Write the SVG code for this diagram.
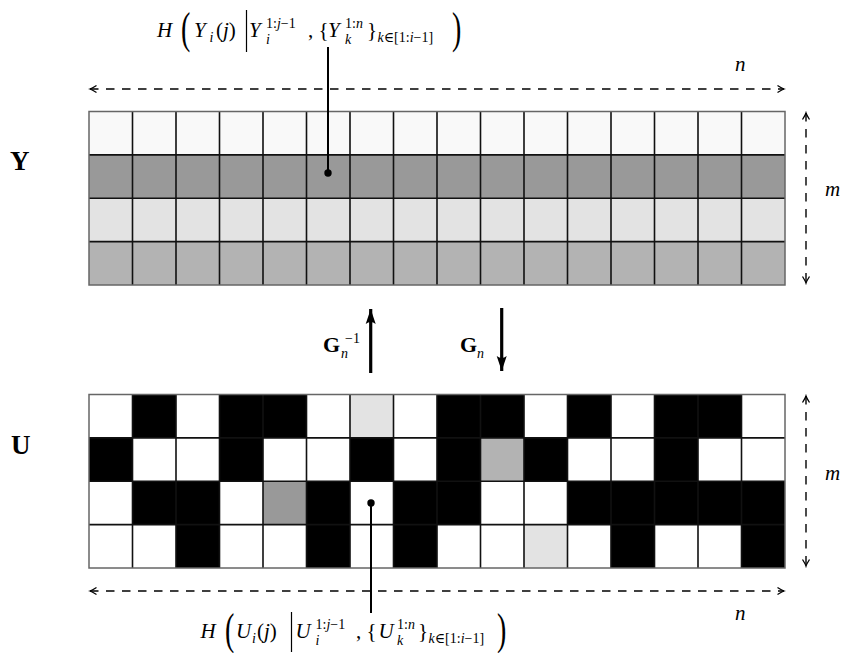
<svg xmlns="http://www.w3.org/2000/svg" width="844" height="653" viewBox="0 0 844 653">
<style>
  .m { font-family: "Liberation Serif", "DejaVu Serif", serif; font-size: 21px; fill: #000; }
  .it { font-style: italic; }
  .s { font-size: 14px; }
  .big { font-family: "Liberation Serif", "DejaVu Serif", serif; font-size: 28px; fill: #000; }
  .bold { font-family: "Liberation Serif", "DejaVu Serif", serif; font-weight: bold; fill: #000; }
  .gl { fill: none; stroke: #111; stroke-width: 1.6; }
  .ob { fill: none; stroke: #666; stroke-width: 1.5; }
  .b { fill: #000; }
  .g1 { fill: #e3e3e3; }
  .g2 { fill: #b3b3b3; }
  .g3 { fill: #999999; }
  .dash { fill: none; stroke: #000; stroke-width: 1.4; stroke-dasharray: 8.5 7.5; }
  .thick { fill: none; stroke: #000; stroke-width: 3.2; }
  .lead { fill: none; stroke: #000; stroke-width: 2; }
  .bar { fill: none; stroke: #000; stroke-width: 1.2; }
</style>
<defs>
  <marker id="tip" viewBox="-8 -5 10 10" refX="0" refY="0" markerWidth="10" markerHeight="10" markerUnits="userSpaceOnUse" orient="auto-start-reverse">
    <path d="M-6.5,-3.5 Q-2,-0.6 0,0 Q-2,0.6 -6.5,3.5" fill="none" stroke="#000" stroke-width="1.3"/>
  </marker>
  <marker id="bigtip" viewBox="-16 -6 17 12" refX="0" refY="0" markerWidth="17" markerHeight="12" markerUnits="userSpaceOnUse" orient="auto">
    <path d="M0,0 L-15,-5 Q-11,0 -15,5 Z" fill="#000"/>
  </marker>
</defs>
<rect width="844" height="653" fill="#fff"/>

<!-- Y grid -->
<g id="grid-Y">
  <rect x="89" y="111.5" width="696" height="43.4" fill="#f9f9f9"/>
  <rect x="89" y="154.9" width="696" height="43.35" class="g3"/>
  <rect x="89" y="198.25" width="696" height="43.35" class="g1"/>
  <rect x="89" y="241.6" width="696" height="43.4" class="g2"/>
  <path class="gl" d="M132.5,111.5V285 M176,111.5V285 M219.5,111.5V285 M263,111.5V285 M306.5,111.5V285 M350,111.5V285 M393.5,111.5V285 M437,111.5V285 M480.5,111.5V285 M524,111.5V285 M567.5,111.5V285 M611,111.5V285 M654.5,111.5V285 M698,111.5V285 M741.5,111.5V285 M89,154.9H785 M89,198.25H785 M89,241.6H785"/>
  <rect class="ob" x="89" y="111.5" width="696" height="173.5"/>
</g>

<!-- U grid -->
<g id="grid-U">
  <rect x="89" y="394.5" width="696" height="173.5" fill="#fff"/>
  <!-- row 0 -->
  <rect class="b" x="132.5" y="394.5" width="43.5" height="43.4"/>
  <rect class="b" x="219.5" y="394.5" width="87" height="43.4"/>
  <rect class="g1" x="350" y="394.5" width="43.5" height="43.4"/>
  <rect class="b" x="437" y="394.5" width="87" height="43.4"/>
  <rect class="b" x="567.5" y="394.5" width="43.5" height="43.4"/>
  <rect class="b" x="654.5" y="394.5" width="87" height="43.4"/>
  <!-- row 1 -->
  <rect class="b" x="89" y="437.9" width="43.5" height="43.35"/>
  <rect class="b" x="219.5" y="437.9" width="43.5" height="43.35"/>
  <rect class="b" x="350" y="437.9" width="43.5" height="43.35"/>
  <rect class="b" x="437" y="437.9" width="43.5" height="43.35"/>
  <rect class="g2" x="480.5" y="437.9" width="43.5" height="43.35"/>
  <rect class="b" x="524" y="437.9" width="43.5" height="43.35"/>
  <rect class="b" x="654.5" y="437.9" width="43.5" height="43.35"/>
  <!-- row 2 -->
  <rect class="b" x="132.5" y="481.25" width="87" height="43.35"/>
  <rect class="g3" x="263" y="481.25" width="43.5" height="43.35"/>
  <rect class="b" x="306.5" y="481.25" width="43.5" height="43.35"/>
  <rect class="b" x="393.5" y="481.25" width="87" height="43.35"/>
  <rect class="b" x="567.5" y="481.25" width="217.5" height="43.35"/>
  <!-- row 3 -->
  <rect class="b" x="176" y="524.6" width="43.5" height="43.4"/>
  <rect class="b" x="306.5" y="524.6" width="43.5" height="43.4"/>
  <rect class="b" x="393.5" y="524.6" width="43.5" height="43.4"/>
  <rect class="g1" x="524" y="524.6" width="43.5" height="43.4"/>
  <rect class="b" x="611" y="524.6" width="43.5" height="43.4"/>
  <rect class="b" x="741.5" y="524.6" width="43.5" height="43.4"/>
  <path class="gl" d="M132.5,394.5V568 M176,394.5V568 M219.5,394.5V568 M263,394.5V568 M306.5,394.5V568 M350,394.5V568 M393.5,394.5V568 M437,394.5V568 M480.5,394.5V568 M524,394.5V568 M567.5,394.5V568 M611,394.5V568 M654.5,394.5V568 M698,394.5V568 M741.5,394.5V568 M89,437.9H785 M89,481.25H785 M89,524.6H785"/>
  <rect class="ob" x="89" y="394.5" width="696" height="173.5"/>
</g>

<!-- connectors -->
<g id="connectors">
  <line class="dash" x1="90" y1="89" x2="784" y2="89" marker-start="url(#tip)" marker-end="url(#tip)"/>
  <line class="dash" x1="90" y1="591" x2="784" y2="591" marker-start="url(#tip)" marker-end="url(#tip)"/>
  <line class="dash" x1="806" y1="113" x2="806" y2="283" marker-start="url(#tip)" marker-end="url(#tip)"/>
  <line class="dash" x1="806" y1="396" x2="806" y2="566" marker-start="url(#tip)" marker-end="url(#tip)"/>
  <line class="thick" x1="370.7" y1="373" x2="370.7" y2="309" marker-end="url(#bigtip)"/>
  <line class="thick" x1="501.7" y1="308" x2="501.7" y2="371" marker-end="url(#bigtip)"/>
  <line class="lead" x1="328" y1="173" x2="328" y2="47"/>
  <circle cx="328" cy="173" r="3.7" fill="#000"/>
  <line class="lead" x1="371" y1="503" x2="371" y2="613"/>
  <circle cx="371" cy="503" r="3.7" fill="#000"/>
</g>

<!-- labels -->
<g id="label-Y"><text class="bold" x="10" y="170" font-size="27">Y</text></g>
<g id="label-U"><text class="bold" x="11" y="454" font-size="27">U</text></g>
<g id="label-n-top"><text class="m it" x="735" y="71" font-size="21">n</text></g>
<g id="label-n-bottom"><text class="m it" x="735" y="620" font-size="21">n</text></g>
<g id="label-m-top"><text class="m it" x="825" y="196" font-size="21">m</text></g>
<g id="label-m-bottom"><text class="m it" x="825" y="480" font-size="21">m</text></g>

<g id="label-Ginv">
  <text class="bold" x="323" y="352" font-size="22">G</text>
  <text class="m it s" x="341" y="358">n</text>
  <text class="m s" x="345" y="343">−1</text>
</g>
<g id="label-G">
  <text class="bold" x="460" y="352" font-size="22">G</text>
  <text class="m it s" x="477" y="358">n</text>
</g>

<g id="label-HY">
  <text class="m it" x="157" y="37">H</text>
  <text class="big" transform="translate(181 43) scale(1 1.55)">(</text>
  <text class="m it" x="194" y="37">Y</text>
  <text class="m it s" x="209.5" y="42">i</text>
  <text class="m" x="216" y="37">(<tspan class="it">j</tspan>)</text>
  <line class="bar" x1="246.5" y1="10" x2="246.5" y2="52"/>
  <text class="m it" x="249" y="37">Y</text>
  <text class="m s" x="266" y="28">1:<tspan class="it">j</tspan>−1</text>
  <text class="m it s" x="266" y="44">i</text>
  <text class="m" x="308" y="37">, {</text>
  <text class="m it" x="328" y="37">Y</text>
  <text class="m s" x="345" y="28">1:<tspan class="it">n</tspan></text>
  <text class="m it s" x="345" y="44">k</text>
  <text class="m" x="367" y="37">}</text>
  <text class="m s" x="377.5" y="42"><tspan class="it">k</tspan>∈[1:<tspan class="it">i</tspan>−1]</text>
  <text class="big" transform="translate(452 43) scale(1 1.55)">)</text>
</g>

<g id="label-HU">
  <text class="m it" x="200.5" y="638">H</text>
  <text class="big" transform="translate(225 644) scale(1 1.55)">(</text>
  <text class="m it" x="236" y="638">U</text>
  <text class="m it s" x="252" y="643">i</text>
  <text class="m" x="257" y="638">(<tspan class="it">j</tspan>)</text>
  <line class="bar" x1="291.5" y1="612" x2="291.5" y2="652"/>
  <text class="m it" x="295.5" y="638">U</text>
  <text class="m s" x="315.5" y="629">1:<tspan class="it">j</tspan>−1</text>
  <text class="m it s" x="315.5" y="645">i</text>
  <text class="m" x="356" y="638">, {</text>
  <text class="m it" x="378.5" y="638">U</text>
  <text class="m s" x="397" y="629">1:<tspan class="it">n</tspan></text>
  <text class="m it s" x="397" y="645">k</text>
  <text class="m" x="418" y="638">}</text>
  <text class="m s" x="428.5" y="643"><tspan class="it">k</tspan>∈[1:<tspan class="it">i</tspan>−1]</text>
  <text class="big" transform="translate(497 644) scale(1 1.55)">)</text>
</g>
</svg>
